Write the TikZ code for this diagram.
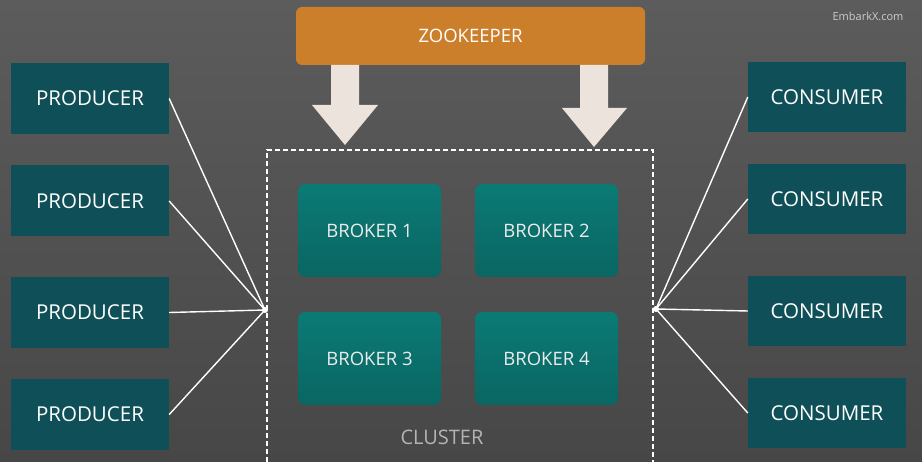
\documentclass[tikz,border=0pt]{standalone}
\usepackage{fontspec}
\setmainfont{Open Sans}
\definecolor{bgtop}{HTML}{5C5C5C}
\definecolor{bgbot}{HTML}{474747}
\definecolor{zoo}{HTML}{CC7F2B}
\definecolor{arrowc}{HTML}{EDE3DD}
\definecolor{brktop}{HTML}{0B7A75}
\definecolor{brkbot}{HTML}{0A6662}
\definecolor{pc}{HTML}{0F4F57}
\definecolor{clus}{HTML}{B4B4B4}
\begin{document}
\begin{tikzpicture}[x=1pt,y=-1pt,
  endbox/.style={rectangle, fill=pc, minimum width=158pt, minimum height=71pt, inner sep=0pt, text=white, font=\fontsize{20.5}{22}\selectfont},
  brokerbox/.style={rectangle, rounded corners=7pt, top color=brktop, bottom color=brkbot, minimum width=143pt, minimum height=93pt, inner sep=0pt, text=white!92!black, font=\fontsize{18.5}{20}\selectfont},
  link/.style={white, line width=1.4pt},
  bigarrow/.style={fill=arrowc, draw=none}
]
\shade[top color=bgtop, bottom color=bgbot] (0,0) rectangle (922,462);
\useasboundingbox (0,0) rectangle (922,462);

% zookeeper
\node[rectangle, rounded corners=6pt, fill=zoo, minimum width=349pt, minimum height=58pt, inner sep=0pt, text=white, font=\fontsize{18.5}{20}\selectfont] (zk) at (470.5,36) {ZOOKEEPER};

% watermark
\node[text=white!80!black, font=\fontsize{11}{13}\selectfont] (wm) at (868,16) {EmbarkX.com};

% big arrows
\fill[bigarrow] (331,65) -- (359,65) -- (359,105) -- (378,105) -- (345,145) -- (312,105) -- (331,105) -- cycle;
\fill[bigarrow] (580,65) -- (608,65) -- (608,108) -- (627,108) -- (594,147) -- (562,108) -- (580,108) -- cycle;

% cluster
\draw[white, line width=1.4pt, dash pattern=on 5pt off 3pt] (267,470) -- (267,150) -- (653,150) -- (653,470);
\node[text=clus, font=\fontsize{20}{22}\selectfont] (cl) at (442,437) {CLUSTER};

% brokers
\node[brokerbox] (b1) at (369.5,230.5) {BROKER 1};
\node[brokerbox] (b2) at (546.5,230.5) {BROKER 2};
\node[brokerbox] (b3) at (369.5,358.5) {BROKER 3};
\node[brokerbox] (b4) at (546.5,358.5) {BROKER 4};

% producers
\node[endbox] (p1) at (90,98.5) {PRODUCER};
\node[endbox] (p2) at (90,201) {PRODUCER};
\node[endbox] (p3) at (90,312.5) {PRODUCER};
\node[endbox] (p4) at (90,414.5) {PRODUCER};

% consumers
\node[endbox, minimum height=70pt] (c1) at (827,97) {CONSUMER};
\node[endbox, minimum height=70pt] (c2) at (827,199) {CONSUMER};
\node[endbox, minimum height=70pt] (c3) at (827,311) {CONSUMER};
\node[endbox, minimum height=70pt] (c4) at (827,413) {CONSUMER};

% hubs
\coordinate (hl) at (265,310);
\coordinate (hr) at (656,309);
\foreach \p in {p1,p2,p3,p4} \draw[link] (\p.east) -- (hl);
\foreach \c in {c1,c2,c3,c4} \draw[link] (\c.west) -- (hr);
\fill[white] (hl) circle (3pt);
\fill[white] (hr) circle (3pt);
\end{tikzpicture}
\end{document}
